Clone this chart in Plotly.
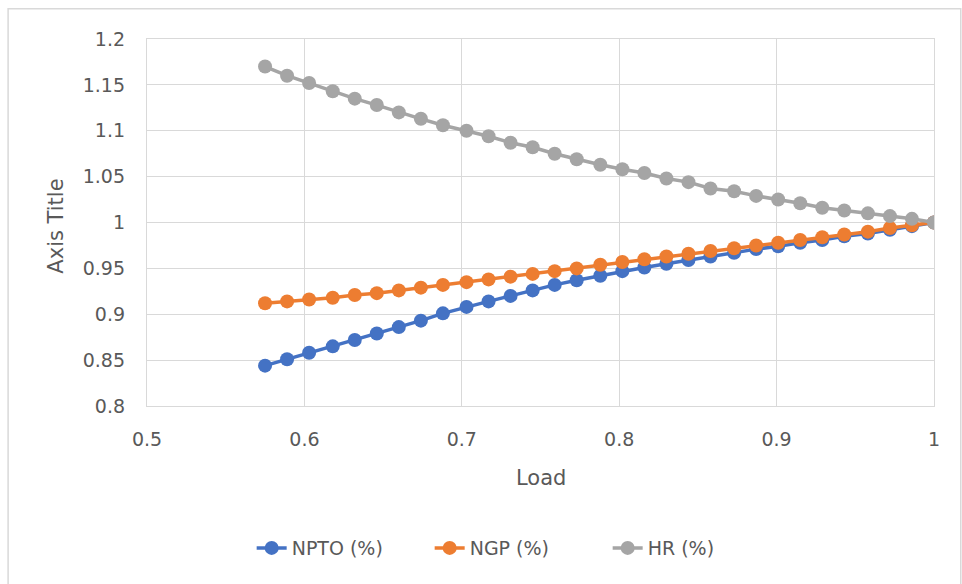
import plotly.graph_objects as go

load = [0.575, 0.589, 0.603, 0.618, 0.632, 0.646, 0.660, 0.674, 0.688, 0.703,
        0.717, 0.731, 0.745, 0.759, 0.773, 0.788, 0.802, 0.816, 0.830, 0.844,
        0.858, 0.873, 0.887, 0.901, 0.915, 0.929, 0.943, 0.958, 0.972, 0.986, 1.000]

npto = [0.844, 0.851, 0.858, 0.865, 0.872, 0.879, 0.886, 0.893, 0.901, 0.908,
        0.914, 0.920, 0.926, 0.932, 0.937, 0.942, 0.947, 0.951, 0.955, 0.959,
        0.963, 0.967, 0.971, 0.974, 0.978, 0.981, 0.985, 0.988, 0.992, 0.996, 1.000]

ngp = [0.912, 0.914, 0.916, 0.918, 0.921, 0.923, 0.926, 0.929, 0.932, 0.935,
       0.938, 0.941, 0.944, 0.947, 0.950, 0.954, 0.957, 0.960, 0.963, 0.966,
       0.969, 0.972, 0.975, 0.978, 0.981, 0.984, 0.987, 0.990, 0.994, 0.997, 1.000]

hr = [1.170, 1.160, 1.152, 1.143, 1.135, 1.128, 1.120, 1.113, 1.106, 1.100,
      1.094, 1.087, 1.082, 1.075, 1.069, 1.063, 1.058, 1.054, 1.048, 1.044,
      1.037, 1.034, 1.029, 1.025, 1.021, 1.016, 1.013, 1.010, 1.007, 1.004, 1.000]

series = [("NPTO (%)", npto, "#4472C4"),
          ("NGP (%)", ngp, "#ED7D31"),
          ("HR (%)", hr, "#A5A5A5")]

FONT = "DejaVu Sans"
TXT = "#595959"
GRID = "#d9d9d9"

fig = go.Figure()
for name, vals, col in series:
    fig.add_trace(go.Scatter(
        x=load, y=vals, name=name, mode="lines+markers",
        line=dict(color=col, width=3.5),
        marker=dict(color=col, size=14, line=dict(width=0)),
    ))

fig.update_layout(
    width=962, height=584,
    margin=dict(l=147, r=28, t=39, b=178, autoexpand=False),
    paper_bgcolor="white", plot_bgcolor="white",
    font=dict(family=FONT, size=19, color=TXT),
    showlegend=True,
    legend=dict(orientation="h", x=0.133, xanchor="left", y=-0.387, yanchor="middle",
                font=dict(family=FONT, size=19, color=TXT),
                entrywidth=133, entrywidthmode="pixels", tracegroupgap=0),
    xaxis=dict(range=[0.5, 1.0], dtick=0.1, tick0=0.5, showgrid=True, gridcolor=GRID,
               gridwidth=1.3, zeroline=False, showline=True, linecolor=GRID, linewidth=1.3,
               mirror=True, ticks="", ticklabelstandoff=16,
               tickfont=dict(family=FONT, size=19, color=TXT)),
    yaxis=dict(range=[0.8, 1.2], dtick=0.05, tick0=0.8, showgrid=True, gridcolor=GRID,
               gridwidth=1.3, zeroline=False, showline=True, linecolor=GRID, linewidth=1.3,
               mirror=True, ticks="", ticklabelstandoff=17,
               tickfont=dict(family=FONT, size=19, color=TXT)),
    annotations=[
        dict(text="Load", xref="paper", yref="paper", x=0.5, y=-0.196,
             xanchor="center", yanchor="middle", showarrow=False,
             font=dict(family=FONT, size=21, color=TXT)),
        dict(text="Axis Title", xref="paper", yref="paper", x=-0.115, y=0.49,
             xanchor="center", yanchor="middle", showarrow=False, textangle=-90,
             font=dict(family=FONT, size=21, color=TXT)),
    ],
    shapes=[
        dict(type="rect", xref="paper", yref="paper", x0=-0.1765, x1=1.034,
             y0=-0.51, y1=1.0826, line=dict(color=GRID, width=1.5), layer="below"),
    ],
)

fig.write_html("out.html")
